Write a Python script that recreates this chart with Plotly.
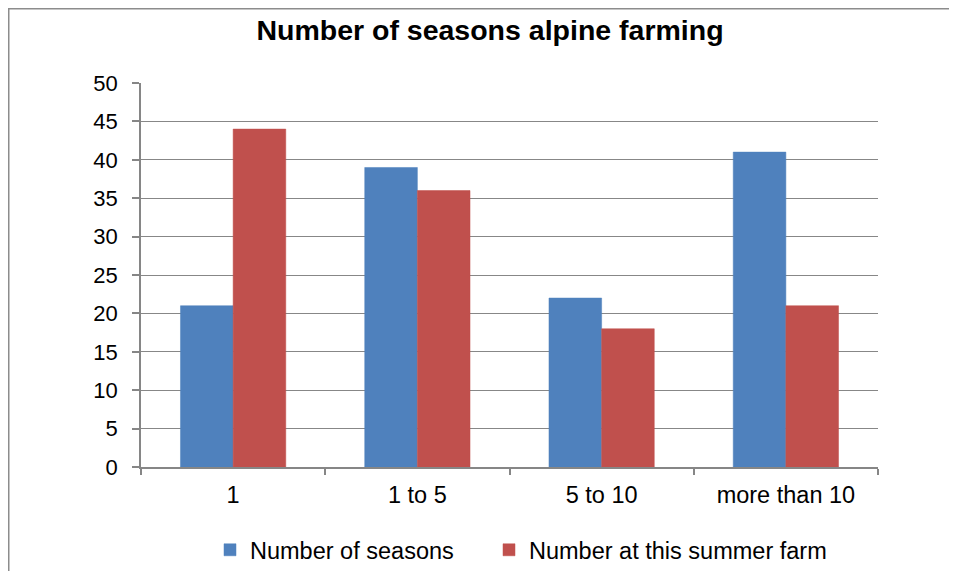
import plotly.graph_objects as go

categories = ["1", "1 to 5", "5 to 10", "more than 10"]
seasons = [21, 39, 22, 41]
summer_farm = [44, 36, 18, 21]
series_names = ["Number of seasons", "Number at this summer farm"]
title_text = "Number of seasons alpine farming"

O = 8  # page body margin offset
W, H = 957 - 2 * O, 579 - 2 * O
L, T = 141 - O, 83 - O
R = W - (878 - O)
B = H - (467 - O)

fig = go.Figure()
fig.add_trace(go.Bar(x=categories, y=seasons, name=series_names[0], legend="legend",
                     marker=dict(color="#4F81BD", line=dict(color="#4F81BD", width=0.5))))
fig.add_trace(go.Bar(x=categories, y=summer_farm, name=series_names[1], legend="legend2",
                     marker=dict(color="#C0504D", line=dict(color="#C0504D", width=0.5))))

font = "Liberation Sans, Arial, sans-serif"
legend_common = dict(orientation="h", xanchor="left", xref="container",
                     y=1 - (550 - O)/H, yref="container", yanchor="middle",
                     bgcolor="rgba(0,0,0,0)", font=dict(family=font, size=23.5))
fig.update_layout(
    width=W, height=H,
    margin=dict(l=L, r=R, t=T, b=B),
    paper_bgcolor="white", plot_bgcolor="white",
    barmode="group", bargap=1.5/3.5, bargroupgap=0,
    font=dict(family=font, size=23, color="black"),
    title=dict(text="<b>" + title_text + "</b>", x=(490 - O)/W, xref="container", xanchor="center",
               y=1 - (30 - O)/H, yref="container", yanchor="middle",
               font=dict(family=font, size=28.5, color="black")),
    showlegend=True,
    legend=dict(x=(210 - O)/W, **legend_common),
    legend2=dict(x=(489 - O)/W, **legend_common),
    xaxis=dict(type="category", showgrid=False, showline=True, linecolor="#868686", linewidth=1.5,
               ticks="outside", tickson="boundaries", ticklen=6, tickcolor="#868686", tickwidth=1.5,
               ticklabelstandoff=6, tickfont=dict(family=font, size=23.5)),
    yaxis=dict(range=[0, 50], tickmode="linear", tick0=0, dtick=5, showgrid=True,
               gridcolor="#878787", gridwidth=1, showline=True, linecolor="#868686", linewidth=1.5,
               ticks="outside", ticklen=7, tickcolor="#868686", tickwidth=1.5, zeroline=False,
               ticklabelstandoff=10, tickfont=dict(family=font, size=22)),
)

# chart border (only left and top edges visible in the reference)
pw = W - L - R
ph = H - T - B
def px_x(v):
    return (v - L) / pw
def px_y(v):
    return (H - B - v) / ph
border = dict(color="#8C8C8C", width=1.5)
fig.add_shape(type="line", xref="paper", yref="paper",
              x0=px_x(0.75), x1=px_x(0.75), y0=px_y(0), y1=px_y(H), line=border, layer="below")
fig.add_shape(type="line", xref="paper", yref="paper",
              x0=px_x(0), x1=px_x(W), y0=px_y(0.75), y1=px_y(0.75), line=border, layer="below")

fig.write_html("out.html")
